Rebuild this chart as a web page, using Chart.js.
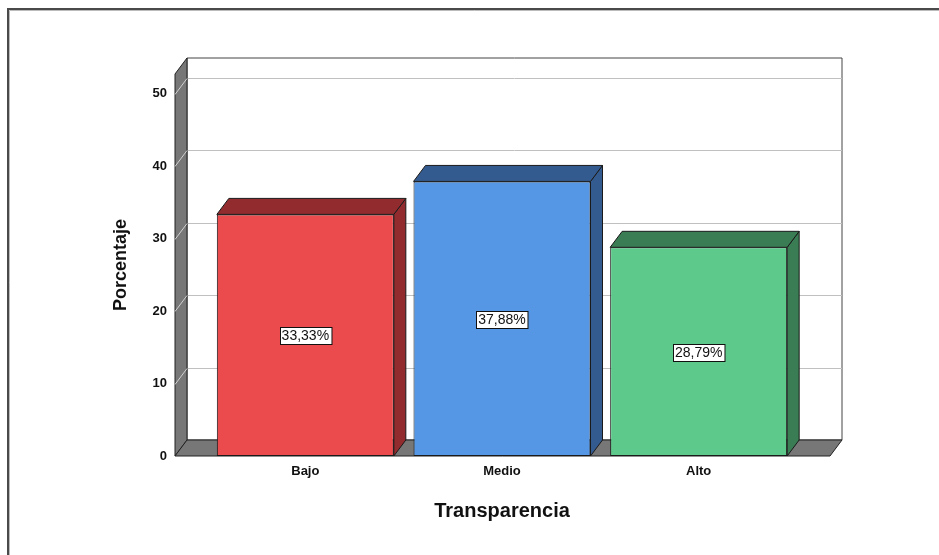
<!DOCTYPE html>
<html>
<head>
<meta charset="utf-8">
<script src="https://cdn.jsdelivr.net/npm/chart.js@4"></script>
<style>
  html, body { margin: 0; padding: 0; background: #fff; }
  #wrap { width: 939px; height: 555px; }
</style>
</head>
<body>
<div id="wrap"><canvas id="chart1" width="939" height="555"></canvas></div>
<script>
const categories = ['Bajo', 'Medio', 'Alto'];
const percentages = [33.33, 37.88, 28.79];
const yTicks = [0, 10, 20, 30, 40, 50];

const FRONT_COLORS = ['#EC4B4D', '#5596E5', '#5DC98B'];
const SIDE_COLORS = ['#922B2E', '#345B8F', '#3A7C53'];

const FONT = "'Liberation Sans', Arial, sans-serif";
// depth of the 3D extrusion
const DX = 12;
const DY = -16;

function fmtPct(v) {
    return v.toFixed(2).replace('.', ',') + '%';
}

function poly(ctx, pts, fill, stroke) {
    ctx.beginPath();
    ctx.moveTo(pts[0][0], pts[0][1]);
    for (let i = 1; i < pts.length; i++) ctx.lineTo(pts[i][0], pts[i][1]);
    ctx.closePath();
    if (fill) { ctx.fillStyle = fill; ctx.fill(); }
    if (stroke) { ctx.strokeStyle = stroke; ctx.lineWidth = 1; ctx.stroke(); }
}

// frame, walls, floor and grid behind the bars
const boxPlugin = {
    id: 'box3d',
    beforeDraw(chart) {
        const ctx = chart.ctx;
        ctx.save();
        ctx.fillStyle = '#fff';
        ctx.fillRect(0, 0, chart.width, chart.height);
        ctx.strokeStyle = '#4a4a4a';
        ctx.lineWidth = 2;
        ctx.beginPath();
        ctx.moveTo(8, chart.height);
        ctx.lineTo(8, 9);
        ctx.lineTo(chart.width, 9);
        ctx.stroke();
        ctx.strokeStyle = '#bbb';
        ctx.lineWidth = 1;
        ctx.beginPath();
        ctx.moveTo(9.5, chart.height);
        ctx.lineTo(9.5, 10.5);
        ctx.lineTo(chart.width, 10.5);
        ctx.stroke();
        ctx.restore();
    },
    beforeDatasetsDraw(chart) {
        const ctx = chart.ctx;
        const area = chart.chartArea;
        const y = chart.scales.y;
        const left = area.left - 32;
        const right = area.right + 33;
        const top = area.top;
        const base = y.getPixelForValue(0);

        ctx.save();
        // back wall
        poly(ctx, [[left + DX, top + DY], [right + DX, top + DY], [right + DX, base + DY], [left + DX, base + DY]], '#fff', '#444');

        // grid lines on back and left walls
        ctx.lineWidth = 1;
        yTicks.forEach(v => {
            if (v === 0) return;
            const py = Math.round(y.getPixelForValue(v)) + 0.5;
            ctx.strokeStyle = '#c0c0c0';
            ctx.beginPath();
            ctx.moveTo(left + DX, py + DY);
            ctx.lineTo(right + DX, py + DY);
            ctx.stroke();
        });

        // left wall
        poly(ctx, [[left, top], [left + DX, top + DY], [left + DX, base + DY], [left, base]], '#777', '#222');
        yTicks.forEach(v => {
            if (v === 0) return;
            const py = Math.round(y.getPixelForValue(v)) + 0.5;
            ctx.strokeStyle = '#d0d0d0';
            ctx.beginPath();
            ctx.moveTo(left, py);
            ctx.lineTo(left + DX, py + DY);
            ctx.stroke();
        });

        // floor
        poly(ctx, [[left, base], [right, base], [right + DX, base + DY], [left + DX, base + DY]], '#777', '#222');
        ctx.restore();
    },
    afterDatasetsDraw(chart) {
        const ctx = chart.ctx;
        const meta = chart.getDatasetMeta(0);
        ctx.save();
        meta.data.forEach((bar, i) => {
            const p = bar.getProps(['x', 'y', 'base', 'width'], true);
            const l = p.x - p.width / 2;
            const r = p.x + p.width / 2;
            // side face
            poly(ctx, [[r, p.y], [r + DX, p.y + DY], [r + DX, p.base + DY], [r, p.base]], SIDE_COLORS[i], '#1a1a1a');
            // top face
            poly(ctx, [[l, p.y], [l + DX, p.y + DY], [r + DX, p.y + DY], [r, p.y]], SIDE_COLORS[i], '#1a1a1a');

            // value box
            const text = fmtPct(percentages[i]);
            ctx.font = '14px ' + FONT;
            const tw = ctx.measureText(text).width;
            const cy = Math.round((p.y + p.base) / 2);
            const bx = Math.round(p.x - tw / 2 - 2) + 0.5;
            const by = cy - 8 + 0.5;
            ctx.fillStyle = '#fff';
            ctx.fillRect(bx, by, tw + 4, 17);
            ctx.strokeStyle = '#111';
            ctx.lineWidth = 1;
            ctx.strokeRect(bx, by, tw + 4, 17);
            ctx.fillStyle = '#111';
            ctx.textAlign = 'center';
            ctx.textBaseline = 'middle';
            ctx.fillText(text, p.x, cy + 1);
        });
        ctx.restore();
    }
};

const ctx1 = document.getElementById('chart1').getContext('2d');

const chart1 = new Chart(ctx1, {
    type: 'bar',
    data: {
        labels: categories,
        datasets: [{
            data: percentages,
            backgroundColor: FRONT_COLORS,
            borderColor: '#1a1a1a',
            borderWidth: 1,
            borderSkipped: false,
            barPercentage: 0.9,
            categoryPercentage: 1.0
        }]
    },
    options: {
        responsive: false,
        animation: false,
        layout: { padding: { left: 100, right: 142, top: 74, bottom: 32 } },
        plugins: {
            legend: { display: false },
            tooltip: { enabled: false }
        },
        scales: {
            x: {
                grid: { display: false, drawTicks: false },
                border: { display: false },
                afterFit: scale => { scale.height = 67; },
                ticks: { padding: 8, color: '#111', font: { family: FONT, size: 13, weight: 'bold' } },
                title: {
                    display: true,
                    text: 'Transparencia',
                    color: '#111',
                    padding: { top: 20, bottom: 0 },
                    font: { family: FONT, size: 20, weight: 'bold' }
                }
            },
            y: {
                min: 0,
                max: 52.7,
                grid: { display: false, drawTicks: false },
                border: { display: false },
                afterFit: scale => { scale.width = 107; },
                ticks: {
                    stepSize: 10,
                    padding: 40,
                    color: '#111',
                    font: { family: FONT, size: 13, weight: 'bold' },
                    callback: v => (yTicks.includes(v) ? v : '')
                },
                title: {
                    display: true,
                    text: 'Porcentaje',
                    color: '#111',
                    padding: { top: 10, bottom: 0 },
                    font: { family: FONT, size: 18, weight: 'bold' }
                }
            }
        }
    },
    plugins: [boxPlugin]
});
</script>
</body>
</html>
